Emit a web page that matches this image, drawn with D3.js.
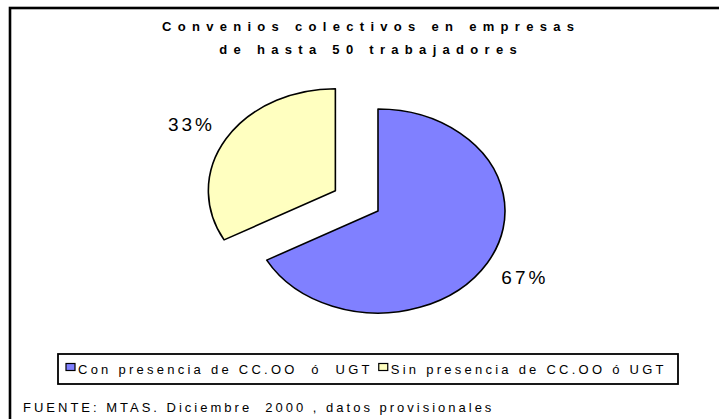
<!DOCTYPE html>
<html><head><meta charset="utf-8">
<script src="https://cdn.jsdelivr.net/npm/d3@7"></script>
<style>
html,body{margin:0;padding:0;background:#fff;}
svg{display:block;font-family:"Liberation Sans",Arial,sans-serif;}
</style></head>
<body>
<svg id="chart" width="719" height="419"></svg>
<script>
const titleLines = ["Convenios colectivos en empresas", "de hasta 50 trabajadores"];
const categories = ["Con presencia de CC.OO  ó  UGT", "Sin presencia de CC.OO ó UGT"];
const values = [67, 33];
const labels = ["67%", "33%"];
const colors = ["#8080FF", "#FFFFC0"];
const explode = [0, 1];
const footer = "FUENTE: MTAS. Diciembre  2000 , datos provisionales";

const svg = d3.select("#chart");

// outer frame (extends past the right and bottom edges)
svg.append("rect").attr("x", 10).attr("y", 8).attr("width", 740).attr("height", 440)
  .attr("fill", "#fff").attr("stroke", "#000").attr("stroke-width", 2.6);

// title
const tls = 6.3;
svg.append("g").selectAll("text").data(titleLines).join("text")
  .attr("x", 368 + tls / 2).attr("y", (d, i) => 31 + i * 23)
  .attr("text-anchor", "middle").attr("font-size", 13).attr("font-weight", "bold")
  .attr("letter-spacing", tls).attr("fill", "#000").text(d => d);

// pie (elliptical)
const cx = 378, cy = 211, rx = 127, ry = 102;
const pie = d3.pie().sort(null).value(d => d)(values);
const arc = d3.arc().innerRadius(0).outerRadius(rx);
const explodeK = 0.39, labelKx = 1.33, labelKy = 1.28;

const slices = svg.append("g");
pie.forEach((p, i) => {
  const mid = (p.startAngle + p.endAngle) / 2;
  const ox = cx + explode[i] * explodeK * rx * Math.sin(mid);
  const oy = cy - explode[i] * explodeK * ry * Math.cos(mid);
  slices.append("path")
    .attr("d", arc(p))
    .attr("transform", `translate(${ox},${oy}) scale(1,${ry / rx})`)
    .attr("fill", colors[i]).attr("stroke", "#000").attr("stroke-width", 1.6)
    .attr("stroke-linejoin", "round")
    .attr("vector-effect", "non-scaling-stroke");
  svg.append("text")
    .attr("x", ox + labelKx * rx * Math.sin(mid) + 1.5)
    .attr("y", oy - labelKy * ry * Math.cos(mid))
    .attr("dy", "0.36em").attr("text-anchor", "middle")
    .attr("font-size", 19).attr("letter-spacing", 3).attr("fill", "#000")
    .text(labels[i]);
});

// legend
const lg = svg.append("g");
lg.append("rect").attr("x", 58).attr("y", 354).attr("width", 620).attr("height", 30)
  .attr("fill", "#fff").attr("stroke", "#000").attr("stroke-width", 1.8);
let curX = 66;
categories.forEach((c, i) => {
  lg.append("rect").attr("x", curX).attr("y", 363.5).attr("width", 9).attr("height", 7)
    .attr("fill", colors[i]).attr("stroke", "#000").attr("stroke-width", 1.2);
  const t = lg.append("text").attr("x", curX + 12).attr("y", 374)
    .attr("font-size", 13).attr("letter-spacing", 3.25).attr("fill", "#000")
    .style("white-space", "pre").text(c);
  curX = curX + 12 + t.node().getComputedTextLength() + 6;
});

// footer
svg.append("text").attr("x", 23).attr("y", 412)
  .attr("font-size", 13).attr("letter-spacing", 3).attr("fill", "#000")
  .style("white-space", "pre").text(footer);
</script>
</body></html>
